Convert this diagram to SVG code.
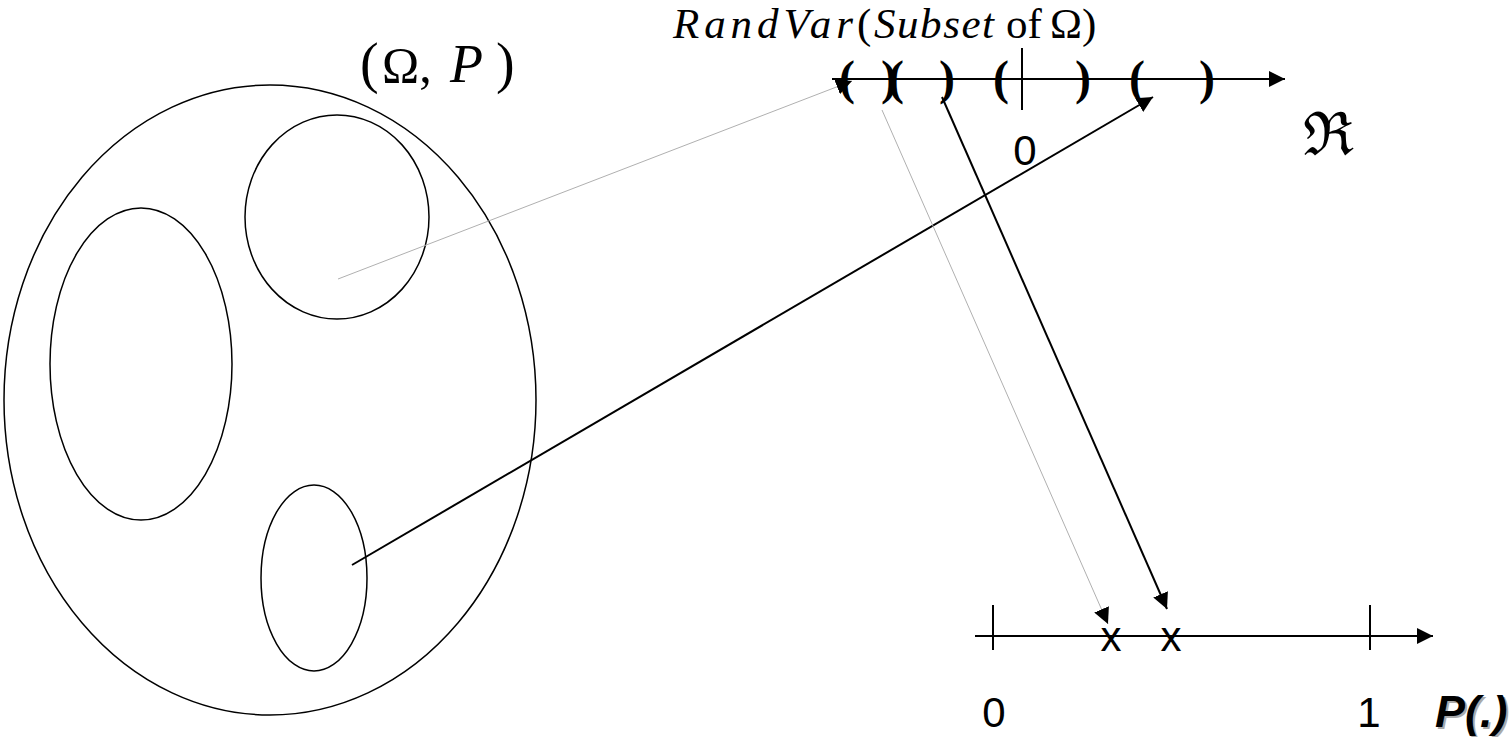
<svg xmlns="http://www.w3.org/2000/svg" width="1512" height="737" viewBox="0 0 1512 737">
<style>
.sh{fill:none;stroke:#000;stroke-width:1.5}
.ax{stroke:#000;stroke-width:2;fill:none}
.thick{stroke:#000;stroke-width:2;fill:none}
.thin{stroke:#b0b0b0;stroke-width:1;fill:none}
.br{font-family:"Liberation Serif",serif;font-size:48px;font-weight:bold;text-anchor:middle;fill:#000}
.ser{font-family:"Liberation Serif",serif;fill:#000}
.it{font-style:italic}
.san{font-family:"Liberation Sans",sans-serif;font-size:42px;fill:#000;text-anchor:middle}
</style>
<defs>
<marker id="ah" viewBox="0 0 16 16" refX="16" refY="8" markerWidth="16" markerHeight="16" markerUnits="userSpaceOnUse" orient="auto">
<path d="M0,0 L16,8 L0,16 z" fill="#000"/>
</marker>
</defs>
<rect width="1512" height="737" fill="#fff"/>

<g id="sample-space">
<ellipse class="sh" cx="270" cy="400" rx="266" ry="315"/>
<text class="ser" y="82" font-size="50"><tspan x="360" font-size="56">(</tspan><tspan x="382">Ω,</tspan><tspan class="it" x="450" font-size="54">P</tspan><tspan x="496" font-size="56">)</tspan></text>
</g>
<g id="event-left"><ellipse class="sh" cx="141" cy="364" rx="91" ry="156"/></g>
<g id="event-top"><ellipse class="sh" cx="337" cy="217" rx="92" ry="102"/></g>
<g id="event-bottom"><ellipse class="sh" cx="314" cy="578" rx="53" ry="93"/></g>

<g id="real-axis">
<line class="ax" x1="832" y1="79" x2="1285" y2="79" marker-end="url(#ah)"/>
<line class="ax" x1="1022" y1="48" x2="1022" y2="110"/>
<text class="br" x="847" y="94">(</text>
<text class="br" x="888" y="94" letter-spacing="-9">)(</text>
<text class="br" x="947" y="94">)</text>
<text class="br" x="1001" y="94">(</text>
<text class="br" x="1083" y="94">)</text>
<text class="br" x="1137" y="94">(</text>
<text class="br" x="1207" y="94">)</text>
<text class="san" x="1025" y="165">0</text>
<text x="1328" y="155" style="font-family:'DejaVu Serif',serif;font-size:60px;text-anchor:middle;fill:#000">ℜ</text>
<text class="ser" y="38" font-size="43"><tspan class="it" x="673" textLength="180" lengthAdjust="spacing">RandVar</tspan><tspan x="857">(</tspan><tspan class="it" x="874" textLength="120" lengthAdjust="spacing">Subset</tspan><tspan x="1006">of</tspan><tspan x="1050">Ω)</tspan></text>
</g>

<g id="prob-axis">
<line class="ax" x1="975" y1="636" x2="1433" y2="636" marker-end="url(#ah)"/>
<line class="ax" x1="993" y1="605" x2="993" y2="650"/>
<line class="ax" x1="1370" y1="605" x2="1370" y2="650"/>
<text class="san" x="1111" y="651" font-size="46">x</text>
<text class="san" x="1171" y="651" font-size="46">x</text>
<text class="san" x="994" y="727">0</text>
<text class="san" x="1369" y="727">1</text>
<text x="1437" y="729" font-family="Liberation Sans, sans-serif" font-size="45" font-weight="bold" font-style="italic" fill="#aaa">P(.)</text>
<text x="1435" y="727" font-family="Liberation Sans, sans-serif" font-size="45" font-weight="bold" font-style="italic" fill="#000">P(.)</text>
</g>

<g id="connectors">
<line class="thin" x1="338" y1="279" x2="852" y2="81" marker-end="url(#ah)"/>
<line class="thick" x1="352" y1="565" x2="1153" y2="97" marker-end="url(#ah)"/>
<line class="thin" x1="882" y1="110" x2="1108" y2="624" marker-end="url(#ah)"/>
<line class="thick" x1="942" y1="97" x2="1167" y2="609" marker-end="url(#ah)"/>
</g>
</svg>
